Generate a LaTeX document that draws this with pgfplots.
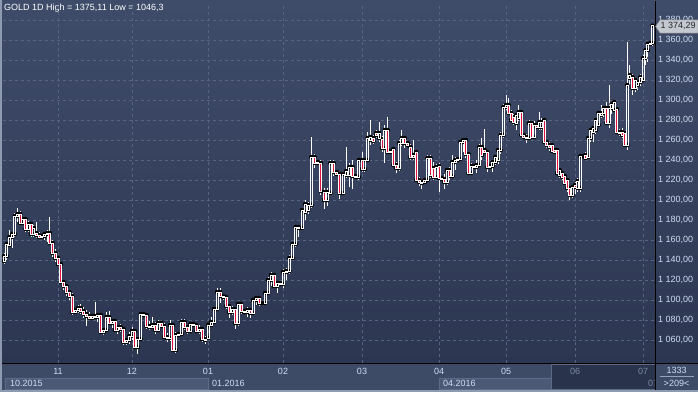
\documentclass[border=0pt]{standalone}
\usepackage{pgfplots}
\pgfplotsset{compat=1.18}
\usepackage{pgfplotstable}
\usepackage{fontspec}
\setmainfont{Liberation Sans}
\definecolor{framec}{HTML}{8E9AB0}
\definecolor{plottop}{HTML}{3F4C69}
\definecolor{plotbot}{HTML}{2C3651}
\definecolor{stripc}{HTML}{3E4B67}
\definecolor{boxc}{HTML}{4B5976}
\definecolor{boxline}{HTML}{5D6B87}
\definecolor{overc}{HTML}{29334C}
\definecolor{gridc}{HTML}{56647F}
\definecolor{ticktxt}{HTML}{CFDDF3}
\definecolor{dimtxt}{HTML}{7D8BA4}
\definecolor{candred}{HTML}{E3123D}
\definecolor{tagc}{HTML}{C4C9D1}

\pgfplotstableread{
x o h l c
4.0 1139 1147 1136 1144
6.7 1144 1158 1140 1156
9.4 1155 1170 1153 1163
12.1 1163 1168 1152 1166
14.8 1166 1187 1163 1184
17.5 1184 1192 1178 1186
20.2 1186 1189 1175 1177
22.9 1177 1183 1175 1181
25.6 1181 1182 1168 1171
28.3 1171 1179 1168 1176
31.0 1176 1177 1163 1166
33.7 1166 1175 1163 1172
36.4 1167 1178 1162 1165
39.1 1165 1168 1161 1163
41.8 1163 1165 1162 1164
44.5 1164 1168 1160 1166
47.2 1166 1170 1158 1167
49.9 1167 1183 1155 1157
52.6 1157 1160 1143 1147
55.3 1147 1151 1138 1142
58.0 1142 1144 1134 1136
60.85 1136 1137 1116 1118
63.7 1118 1120 1110 1114
66.55 1114 1116 1104 1108
69.4 1108 1110 1100 1104
72.25 1104 1107 1085 1088
75.1 1088 1092 1086 1090
77.95 1090 1095 1087 1092
80.8 1092 1096 1086 1089
83.65 1089 1093 1082 1086
86.5 1086 1090 1074 1084
89.35 1084 1088 1080 1082
92.2 1082 1086 1080 1084
95.05 1084 1098 1081 1083
97.9 1083 1087 1078 1085
100.75 1085 1087 1066 1068
103.6 1068 1072 1065 1070
106.45 1070 1088 1068 1083
109.3 1083 1089 1075 1077
112.15 1077 1081 1072 1079
115.0 1079 1080 1068 1070
117.85 1070 1075 1066 1073
120.7 1073 1076 1068 1071
123.55 1071 1073 1055 1058
126.4 1058 1062 1055 1060
129.25 1060 1068 1056 1064
132.0 1064 1073 1060 1069
134.92 1069 1071 1051 1053
137.84 1053 1063 1046.3 1061
140.76 1061 1088 1059 1086
143.68 1086 1088 1084 1085
146.6 1085 1087 1071 1074
149.52 1074 1079 1070 1073
152.44 1073 1083 1071 1075
155.36 1075 1078 1066 1070
158.28 1070 1080 1068 1077
161.2 1077 1078 1073 1074
164.12 1074 1077 1061 1063
167.04 1063 1067 1058 1062
169.96 1062 1080 1059 1075
172.88 1075 1077 1049 1050
175.8 1050 1068 1047 1065
178.72 1065 1067 1063 1066
181.64 1066 1081 1064 1078
184.56 1078 1081 1070 1073
187.48 1073 1074 1066 1069
190.4 1069 1078 1068 1076
193.32 1076 1078 1074 1075
196.24 1075 1077 1068 1069
199.16 1069 1075 1066 1071
202.08 1071 1072 1058 1061
205.0 1061 1064 1056 1060
208 1062 1077 1060 1075
211 1075 1083 1073 1078
214 1078 1093 1076 1091
217 1091 1112 1089 1108
220 1108 1112 1097 1104
223 1104 1106 1100 1103
226 1103 1105 1091 1094
229 1094 1096 1082 1088
232 1088 1094 1085 1091
235 1091 1093 1071 1077
238 1077 1098 1074 1096
241 1096 1097 1086 1089
244 1089 1090 1087 1088
247 1088 1093 1083 1090
250 1090 1092 1082 1087
253 1087 1102 1085 1100
256 1100 1104 1095 1102
259 1102 1104 1094 1097
262 1097 1099 1095 1097
265 1097 1109 1095 1107
268 1107 1123 1105 1120
271 1120 1128 1114 1125
274 1125 1127 1112 1114
277 1114 1119 1107 1117
280 1117 1119 1114 1116
283.0 1116 1131 1112 1128
286.16 1128 1132 1120 1129
289.32 1129 1145 1126 1142
292.48 1142 1158 1140 1156
295.64 1156 1175 1153 1173
298.8 1173 1175 1163 1172
301.96 1172 1192 1170 1190
305.12 1188 1200 1180 1196
308.28 1190 1198 1186 1195
311.44 1195 1263 1192 1243
314.6 1243 1246 1232 1237
317.76 1237 1240 1235 1238
320.92 1237 1240 1205 1209
324.08 1208 1212 1191 1200
327.24 1200 1212 1194 1208
330.4 1207 1240 1205 1237
333.56 1237 1240 1224 1228
336.72 1228 1229 1225 1226
339.88 1226 1228 1201 1207
343.04 1207 1228 1205 1226
346.2 1225 1253 1222 1229
349.36 1225 1237 1213 1233
352.52 1233 1240 1211 1224
355.68 1224 1226 1222 1223
358.84 1223 1242 1220 1240
362.0 1240 1248 1228 1231
364.85 1231 1242 1228 1240
367.7 1240 1268 1238 1262
370.55 1260 1280 1255 1263
373.4 1262 1265 1256 1259
376.25 1267 1270 1262 1265
379.1 1262 1278 1258 1267
381.95 1261 1264 1248 1252
384.8 1252 1275 1237 1270
387.65 1270 1283 1246 1248
390.5 1248 1250 1246 1249
393.35 1251 1253 1233 1235
396.2 1235 1238 1227 1232
399.05 1232 1260 1229 1257
401.9 1257 1270 1254 1262
404.75 1262 1264 1252 1257
407.6 1257 1258 1254 1255
410.45 1253 1256 1240 1243
413.3 1243 1260 1240 1245
416.15 1248 1250 1218 1220
419.0 1220 1223 1214 1218
421.85 1218 1220 1211 1217
424.7 1218 1222 1216 1220
427.55 1220 1245 1218 1242
430.4 1242 1245 1222 1225
433.25 1232 1238 1220 1223
436.1 1223 1236 1221 1233
439.0 1234 1237 1208 1222
441.68 1222 1224 1219 1221
444.36 1221 1226 1211 1218
447.04 1218 1232 1215 1230
449.72 1230 1233 1220 1224
452.4 1224 1245 1222 1238
455.08 1238 1243 1230 1240
457.76 1240 1242 1238 1241
460.44 1241 1260 1239 1258
463.12 1258 1262 1248 1260
465.8 1260 1262 1242 1246
468.48 1246 1248 1225 1227
471.16 1227 1237 1225 1234
473.84 1234 1236 1232 1233
476.52 1233 1240 1227 1235
479.2 1235 1256 1233 1253
481.88 1253 1262 1240 1245
484.56 1250 1271 1246 1248
487.24 1248 1250 1228 1233
489.92 1233 1236 1231 1234
492.6 1234 1240 1228 1238
495.28 1238 1245 1235 1243
497.96 1240 1252 1236 1250
500.64 1250 1268 1246 1265
503.32 1265 1296 1262 1293
506.0 1293 1305 1290 1295
508.56 1295 1302 1285 1287
511.11 1287 1290 1278 1280
513.67 1283 1286 1275 1278
516.22 1277 1287 1270 1285
518.78 1282 1295 1279 1288
521.33 1288 1290 1263 1265
523.89 1265 1267 1261 1263
526.44 1263 1266 1257 1262
529.0 1262 1280 1260 1277
531.56 1277 1279 1261 1263
534.11 1263 1279 1261 1275
536.67 1275 1277 1271 1273
539.22 1273 1288 1270 1278
541.78 1273 1282 1270 1278
544.33 1280 1282 1256 1258
546.89 1258 1260 1252 1255
549.44 1255 1258 1249 1253
552.0 1255 1256 1247 1249
554.56 1250 1252 1246 1248
557.11 1250 1252 1225 1227
559.67 1225 1232 1222 1230
562.22 1227 1229 1220 1223
564.78 1224 1226 1215 1217
567.33 1220 1221 1208 1212
569.89 1212 1214 1200 1205
572.44 1205 1215 1202 1213
575.0 1215 1218 1206 1213
577.62 1212 1222 1208 1219
580.23 1212 1246 1208 1244
582.85 1244 1246 1242 1244
585.46 1245 1248 1240 1242
588.08 1243 1264 1241 1262
590.69 1262 1272 1258 1270
593.31 1268 1274 1258 1272
595.92 1270 1282 1266 1280
598.54 1275 1288 1273 1287
601.15 1285 1295 1282 1287
603.77 1287 1294 1283 1292
606.38 1292 1298 1275 1277
609.0 1277 1315 1272 1292
611.62 1292 1298 1286 1296
614.23 1290 1300 1288 1298
616.85 1291 1293 1266 1268
619.46 1268 1271 1264 1267
622.08 1268 1272 1262 1265
624.69 1267 1268 1253 1255
627.31 1255 1358 1250 1315
629.92 1322 1335 1315 1325
632.54 1323 1326 1305 1312
635.15 1312 1322 1308 1320
637.77 1315 1320 1310 1318
640.38 1318 1326 1314 1323
643.0 1320 1345 1318 1342
645.4 1342 1352 1335 1350
647.8 1350 1358 1338 1356
650.2 1356 1358 1354 1357
652.6 1357 1375.11 1354 1374.29
}\gold

\begin{document}
\begin{tikzpicture}[font=\fontsize{9}{10}\selectfont]
\path[use as bounding box] (0pt,0pt) rectangle (698pt,392pt);
% frame and panels
\fill[framec] (0pt,0pt) rectangle (698pt,392pt);
\shade[top color=plottop, bottom color=plotbot] (2pt,29pt) rectangle (698pt,391pt);
\fill[stripc] (2pt,2pt) rectangle (698pt,29pt);
\fill[boxc, draw=boxline, line width=0.6pt] (5pt,2.5pt) rectangle (208pt,14pt);
\fill[boxc, draw=boxline, line width=0.6pt] (439pt,2.5pt) rectangle (551pt,14pt);
\fill[overc, draw=boxline, line width=0.5pt] (551pt,2.5pt) rectangle (655pt,28pt);
% year labels
\node[anchor=west, text=ticktxt, inner sep=0pt] at (10pt,9pt) {10.2015};
\node[anchor=west, text=ticktxt, inner sep=0pt] at (212pt,9pt) {01.2016};
\node[anchor=west, text=ticktxt, inner sep=0pt] at (443pt,9pt) {04.2016};
\begin{scope}
\clip (551pt,2pt) rectangle (654.5pt,28pt);
\node[anchor=west, text=dimtxt, inner sep=0pt] at (648pt,9pt) {07};
\end{scope}
% title
\node[anchor=west, text=white, inner sep=0pt] at (4pt,384.3pt) {GOLD 1D High = 1375,11 Low = 1046,3};

% axis 1: grid, month labels, wicks
\begin{axis}[
  at={(3pt,29pt)}, anchor=south west, scale only axis,
  width=652pt, height=360pt,
  xmin=3, xmax=655, ymin=1037, ymax=1397,
  axis line style={draw=none},
  tick style={draw=none}, major tick length=0pt,
  xtick={58,132,208,283,362,439,506,575,643},
  xticklabels={11,12,01,02,03,04,05,{\color{dimtxt}06},{\color{dimtxt}07}},
  xticklabel style={anchor=center, yshift=-8pt, text=ticktxt, font=\fontsize{9}{10}\selectfont},
  ytick={1060,1080,...,1380},
  yticklabels={},
  grid=major,
  major grid style={draw=gridc, line width=0.8pt, dash pattern=on 3pt off 3pt},
]
\addplot[only marks, mark=none, forget plot,
  error bars/.cd, y dir=plus, y explicit, error mark=none,
  error bar style={draw=white, line width=0.9pt}]
  table[x=x, y expr={max(\thisrow{o},\thisrow{c})},
        y error plus expr={\thisrow{h}-max(\thisrow{o},\thisrow{c})}] {\gold};
\addplot[only marks, mark=none, forget plot,
  error bars/.cd, y dir=minus, y explicit, error mark=none,
  error bar style={draw=white, line width=0.9pt}]
  table[x=x, y expr={min(\thisrow{o},\thisrow{c})},
        y error minus expr={min(\thisrow{o},\thisrow{c})-\thisrow{l}}] {\gold};
\end{axis}

% axis 2: candle bodies
\begin{axis}[
  at={(3pt,29pt)}, anchor=south west, scale only axis,
  width=652pt, height=360pt,
  xmin=3, xmax=655, ymin=1037, ymax=1397,
  hide axis,
  ybar stacked, bar width=2,
]
\addplot[draw=none, fill=none] table[x=x, y expr={min(\thisrow{o},\thisrow{c})}] {\gold};
\addplot[draw=white, fill=none, line width=0.9pt] table[x=x, y expr={ifthenelse(\thisrow{c}>=\thisrow{o},\thisrow{c}-\thisrow{o},0)}] {\gold};
\addplot[draw=white, fill=candred, line width=0.9pt] table[x=x, y expr={ifthenelse(\thisrow{c}<\thisrow{o},\thisrow{o}-\thisrow{c},0)}] {\gold};
\end{axis}

% y-axis labels on the right (value v sits at 29pt + (v-1037)pt)
\foreach \v/\t in {1060/{1 060,00},1080/{1 080,00},1100/{1 100,00},1120/{1 120,00},1140/{1 140,00},1160/{1 160,00},1180/{1 180,00},1200/{1 200,00},1220/{1 220,00},1240/{1 240,00},1260/{1 260,00},1280/{1 280,00},1300/{1 300,00},1320/{1 320,00},1340/{1 340,00},1360/{1 360,00}}
  \node[anchor=west, text=ticktxt, inner sep=0pt] at (658pt,{(\v-1008)*1pt}) {\t};
\begin{scope}
\clip (656pt,372.5pt) rectangle (698pt,390pt);
\node[anchor=west, text=ticktxt, inner sep=0pt] at (658pt,372pt) {1 380,00};
\end{scope}

% axis frame lines
\draw[black, line width=1pt] (655pt,2pt) -- (655pt,391pt);
\draw[black, line width=1pt] (2pt,29pt) -- (698pt,29pt);
% last price tag
\fill[tagc, draw=gray, line width=0.5pt] (655.5pt,365.6pt) -- (660pt,372pt) -- (698pt,372pt) -- (698pt,359pt) -- (660pt,359pt) -- cycle;
\node[anchor=west, text=black!85, inner sep=0pt] at (660.5pt,365.6pt) {1 374,29};
% bottom right box
\node[text=ticktxt, inner sep=0pt] at (676.5pt,22pt) {1333};
\draw[ticktxt!60!stripc, line width=0.6pt] (660pt,15.5pt) -- (694pt,15.5pt);
\node[text=ticktxt, inner sep=0pt] at (676.5pt,9pt) {>209<};
\end{tikzpicture}
\end{document}
